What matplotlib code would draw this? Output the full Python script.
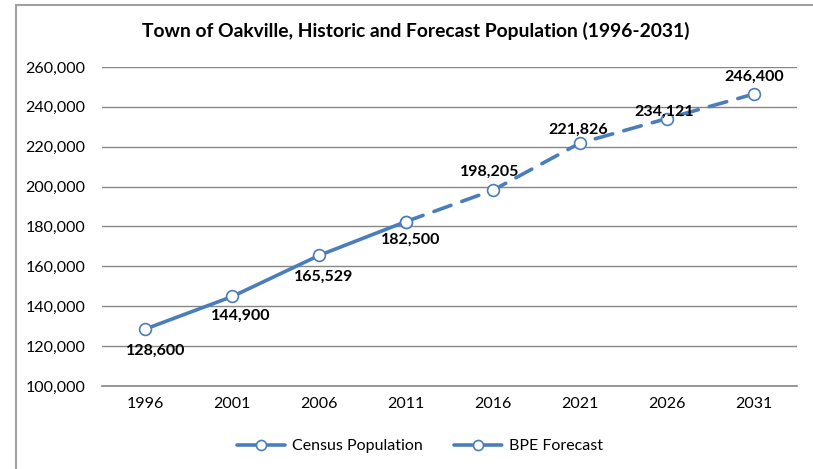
import matplotlib
matplotlib.use("Agg")
import matplotlib.pyplot as plt
from matplotlib.patches import Rectangle
from matplotlib.ticker import FuncFormatter

years = ["1996", "2001", "2006", "2011", "2016", "2021", "2026", "2031"]
census = [128600, 144900, 165529, 182500]
forecast = [182500, 198205, 221826, 234121, 246400]
all_values = [128600, 144900, 165529, 182500, 198205, 221826, 234121, 246400]
label_offsets = [(10, -22), (8, -19), (4, -21), (5, -18), (-3, 18), (-2, 13), (-3, 7), (1, 17)]

plt.rcParams['font.family'] = ['Lato', 'DejaVu Sans']

blue = "#4A7EBB"
fig = plt.figure(figsize=(8.13, 4.69), dpi=100)
ax = fig.add_axes([102/813, 1-386/469, (797-102)/813, (386-67)/469])

x_census = list(range(len(census)))
x_fore = list(range(len(census)-1, len(years)))

ax.plot(x_census, census, color=blue, lw=2.6, marker='o', ms=8.5, mfc='white',
        mec=blue, mew=1.2, label='Census Population', solid_capstyle='round', zorder=3)
ax.plot(x_fore, forecast, color=blue, lw=2.6, ls=(0, (5, 3.2)), marker='o', ms=8.5, mfc='white',
        mec=blue, mew=1.2, label='BPE Forecast', dash_capstyle='round', zorder=3)

for i, (v, off) in enumerate(zip(all_values, label_offsets)):
    ax.annotate(f"{v:,}", (i, v), xytext=off, textcoords='offset pixels',
                ha='center', va='center', fontsize=11.5, fontweight='bold', color='black', zorder=4)

ax.set_xlim(-0.5, len(years)-0.5)
ax.set_ylim(100000, 260000)
ax.set_yticks(range(100000, 260001, 20000))
ax.yaxis.set_major_formatter(FuncFormatter(lambda v, p: f"{int(v):,}"))
ax.set_xticks(range(len(years)))
ax.set_xticklabels(years)
ax.tick_params(axis='both', length=0, labelsize=11.5, colors='black')
ax.tick_params(axis='y', pad=12)
ax.tick_params(axis='x', pad=8)
ax.grid(axis='y', color='#878787', lw=1)
ax.set_axisbelow(True)
for s in ['top', 'right', 'left']:
    ax.spines[s].set_visible(False)
ax.spines['bottom'].set_color('#878787')
ax.spines['bottom'].set_linewidth(1.2)

fig.text(416/813, 1-31/469, "Town of Oakville, Historic and Forecast Population (1996-2031)",
         ha='center', va='center', fontsize=13.9, fontweight='bold')

fig.legend(loc='center', bbox_to_anchor=(420/813, 1-446/469), ncol=2, frameon=False,
           fontsize=11.5, handlelength=3.0, columnspacing=2.0, handletextpad=0.4,
           markerscale=0.85)

fig.patches.append(Rectangle((16/813, -0.1), 1.2, 1-5/469+0.1, transform=fig.transFigure,
                             fill=False, edgecolor='#a0a0a0', lw=1.5, zorder=0))

fig.savefig("out.png", dpi=100)
